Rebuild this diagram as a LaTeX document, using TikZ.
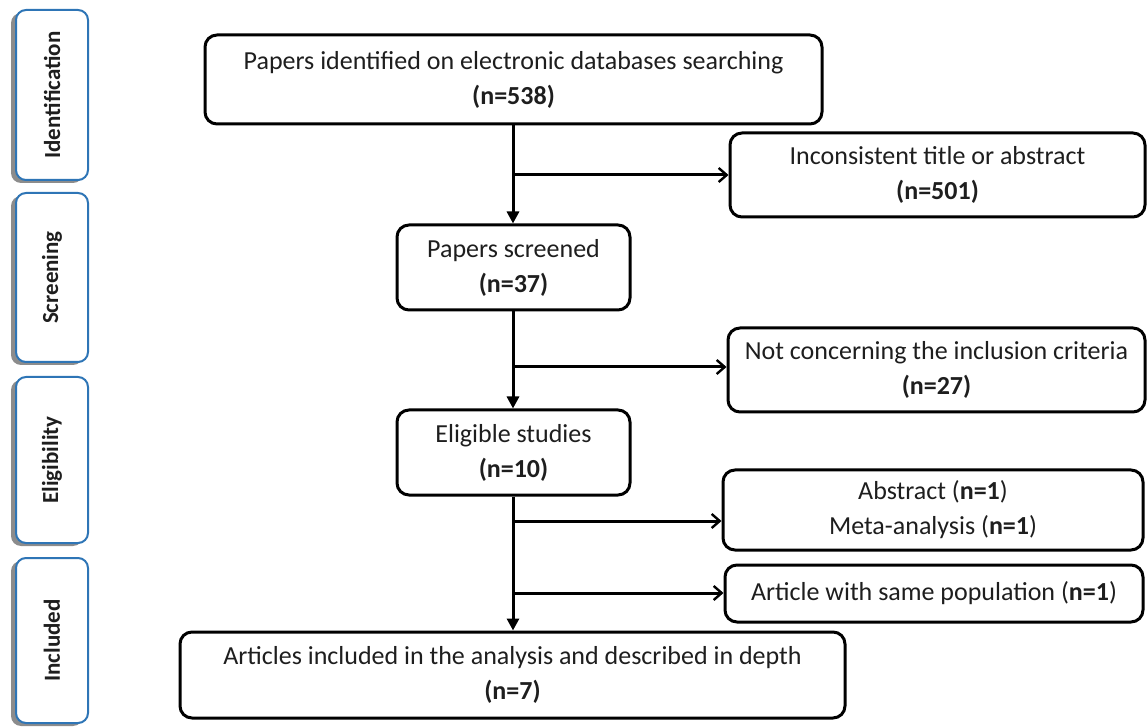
\documentclass[tikz,border=0pt]{standalone}
\usepackage{fontspec}
\setmainfont{Carlito}
\usetikzlibrary{arrows.meta,shadows}
\definecolor{stageblue}{RGB}{46,117,182}
\definecolor{txt}{RGB}{30,30,30}
\tikzset{
  mainbox/.style={draw=black, line width=1.5pt, rounded corners=6pt, fill=white,
    align=center, text=txt, inner sep=2pt, font=\fontsize{13}{17.5}\selectfont},
  stagebox/.style={draw=stageblue, line width=1pt, rounded corners=5pt, fill=white,
    drop shadow={shadow xshift=-2.5pt, shadow yshift=-1.5pt, fill=black!45, opacity=1}},
  stagetext/.style={rotate=90, font=\fontsize{11.5}{13}\selectfont\bfseries, text=txt},
  downarrow/.style={line width=1.5pt, -{Triangle[width=6pt,length=6pt]}},
  sidearrow/.style={line width=1.5pt, -{Straight Barb[width=7pt,length=4pt,line width=1.2pt]}},
  plainline/.style={line width=1.5pt}
}
\begin{document}
\begin{tikzpicture}[x=0.5pt,y=-0.5pt]
\useasboundingbox (0,0) rectangle (1147,727);

% stage boxes
\node[stagebox, minimum width=36pt, minimum height=85pt] (s1) at (52,95) {};
\node[stagetext] (s1t) at (s1) {Identification};
\node[stagebox, minimum width=36pt, minimum height=84.5pt] (s2) at (52,277.5) {};
\node[stagetext] (s2t) at (s2) {Screening};
\node[stagebox, minimum width=36pt, minimum height=83pt] (s3) at (52,460) {};
\node[stagetext] (s3t) at (s3) {Eligibility};
\node[stagebox, minimum width=36pt, minimum height=82.5pt] (s4) at (52,640.5) {};
\node[stagetext] (s4t) at (s4) {Included};

% main boxes
\node[mainbox, minimum width=308.5pt, minimum height=44.5pt] (top) at (513.5,79.5)
  {Papers identified on electronic databases searching\\\textbf{(n=538)}};
\node[mainbox, minimum width=207.5pt, minimum height=42pt] (inc) at (937.5,175)
  {Inconsistent title or abstract\\\textbf{(n=501)}};
\node[mainbox, minimum width=116.5pt, minimum height=42.5pt] (scr) at (513.5,267.5)
  {Papers screened\\\textbf{(n=37)}};
\node[mainbox, minimum width=208.5pt, minimum height=42pt] (notc) at (936.5,370)
  {Not concerning the inclusion criteria\\\textbf{(n=27)}};
\node[mainbox, minimum width=116.5pt, minimum height=42.5pt] (eli) at (513.5,452.5)
  {Eligible studies\\\textbf{(n=10)}};
\node[mainbox, minimum width=210pt, minimum height=40pt] (abs) at (933,510)
  {Abstract (\textbf{n=1})\\Meta-analysis (\textbf{n=1})};
\node[mainbox, minimum width=209pt, minimum height=28.5pt] (same) at (934,593.5)
  {Article with same population (\textbf{n=1})};
\node[mainbox, minimum width=332.5pt, minimum height=43pt] (art) at (512.5,675)
  {Articles included in the analysis and described in depth\\\textbf{(n=7)}};

% branch points
\coordinate (b1) at (513,175);
\coordinate (b2) at (513,367);
\coordinate (b3) at (513,521);
\coordinate (b4) at (513,593);

% connectors
\draw[downarrow] (top.south -| b1) -- (scr.north -| b1);
\draw[sidearrow] (b1) -- (b1 -| inc.west);
\draw[downarrow] (scr.south -| b2) -- (eli.north -| b2);
\draw[sidearrow] (b2) -- (b2 -| notc.west);
\draw[downarrow] (eli.south -| b3) -- (art.north -| b3);
\draw[sidearrow] (b3) -- (b3 -| abs.west);
\draw[sidearrow] (b4) -- (b4 -| same.west);
\end{tikzpicture}
\end{document}
